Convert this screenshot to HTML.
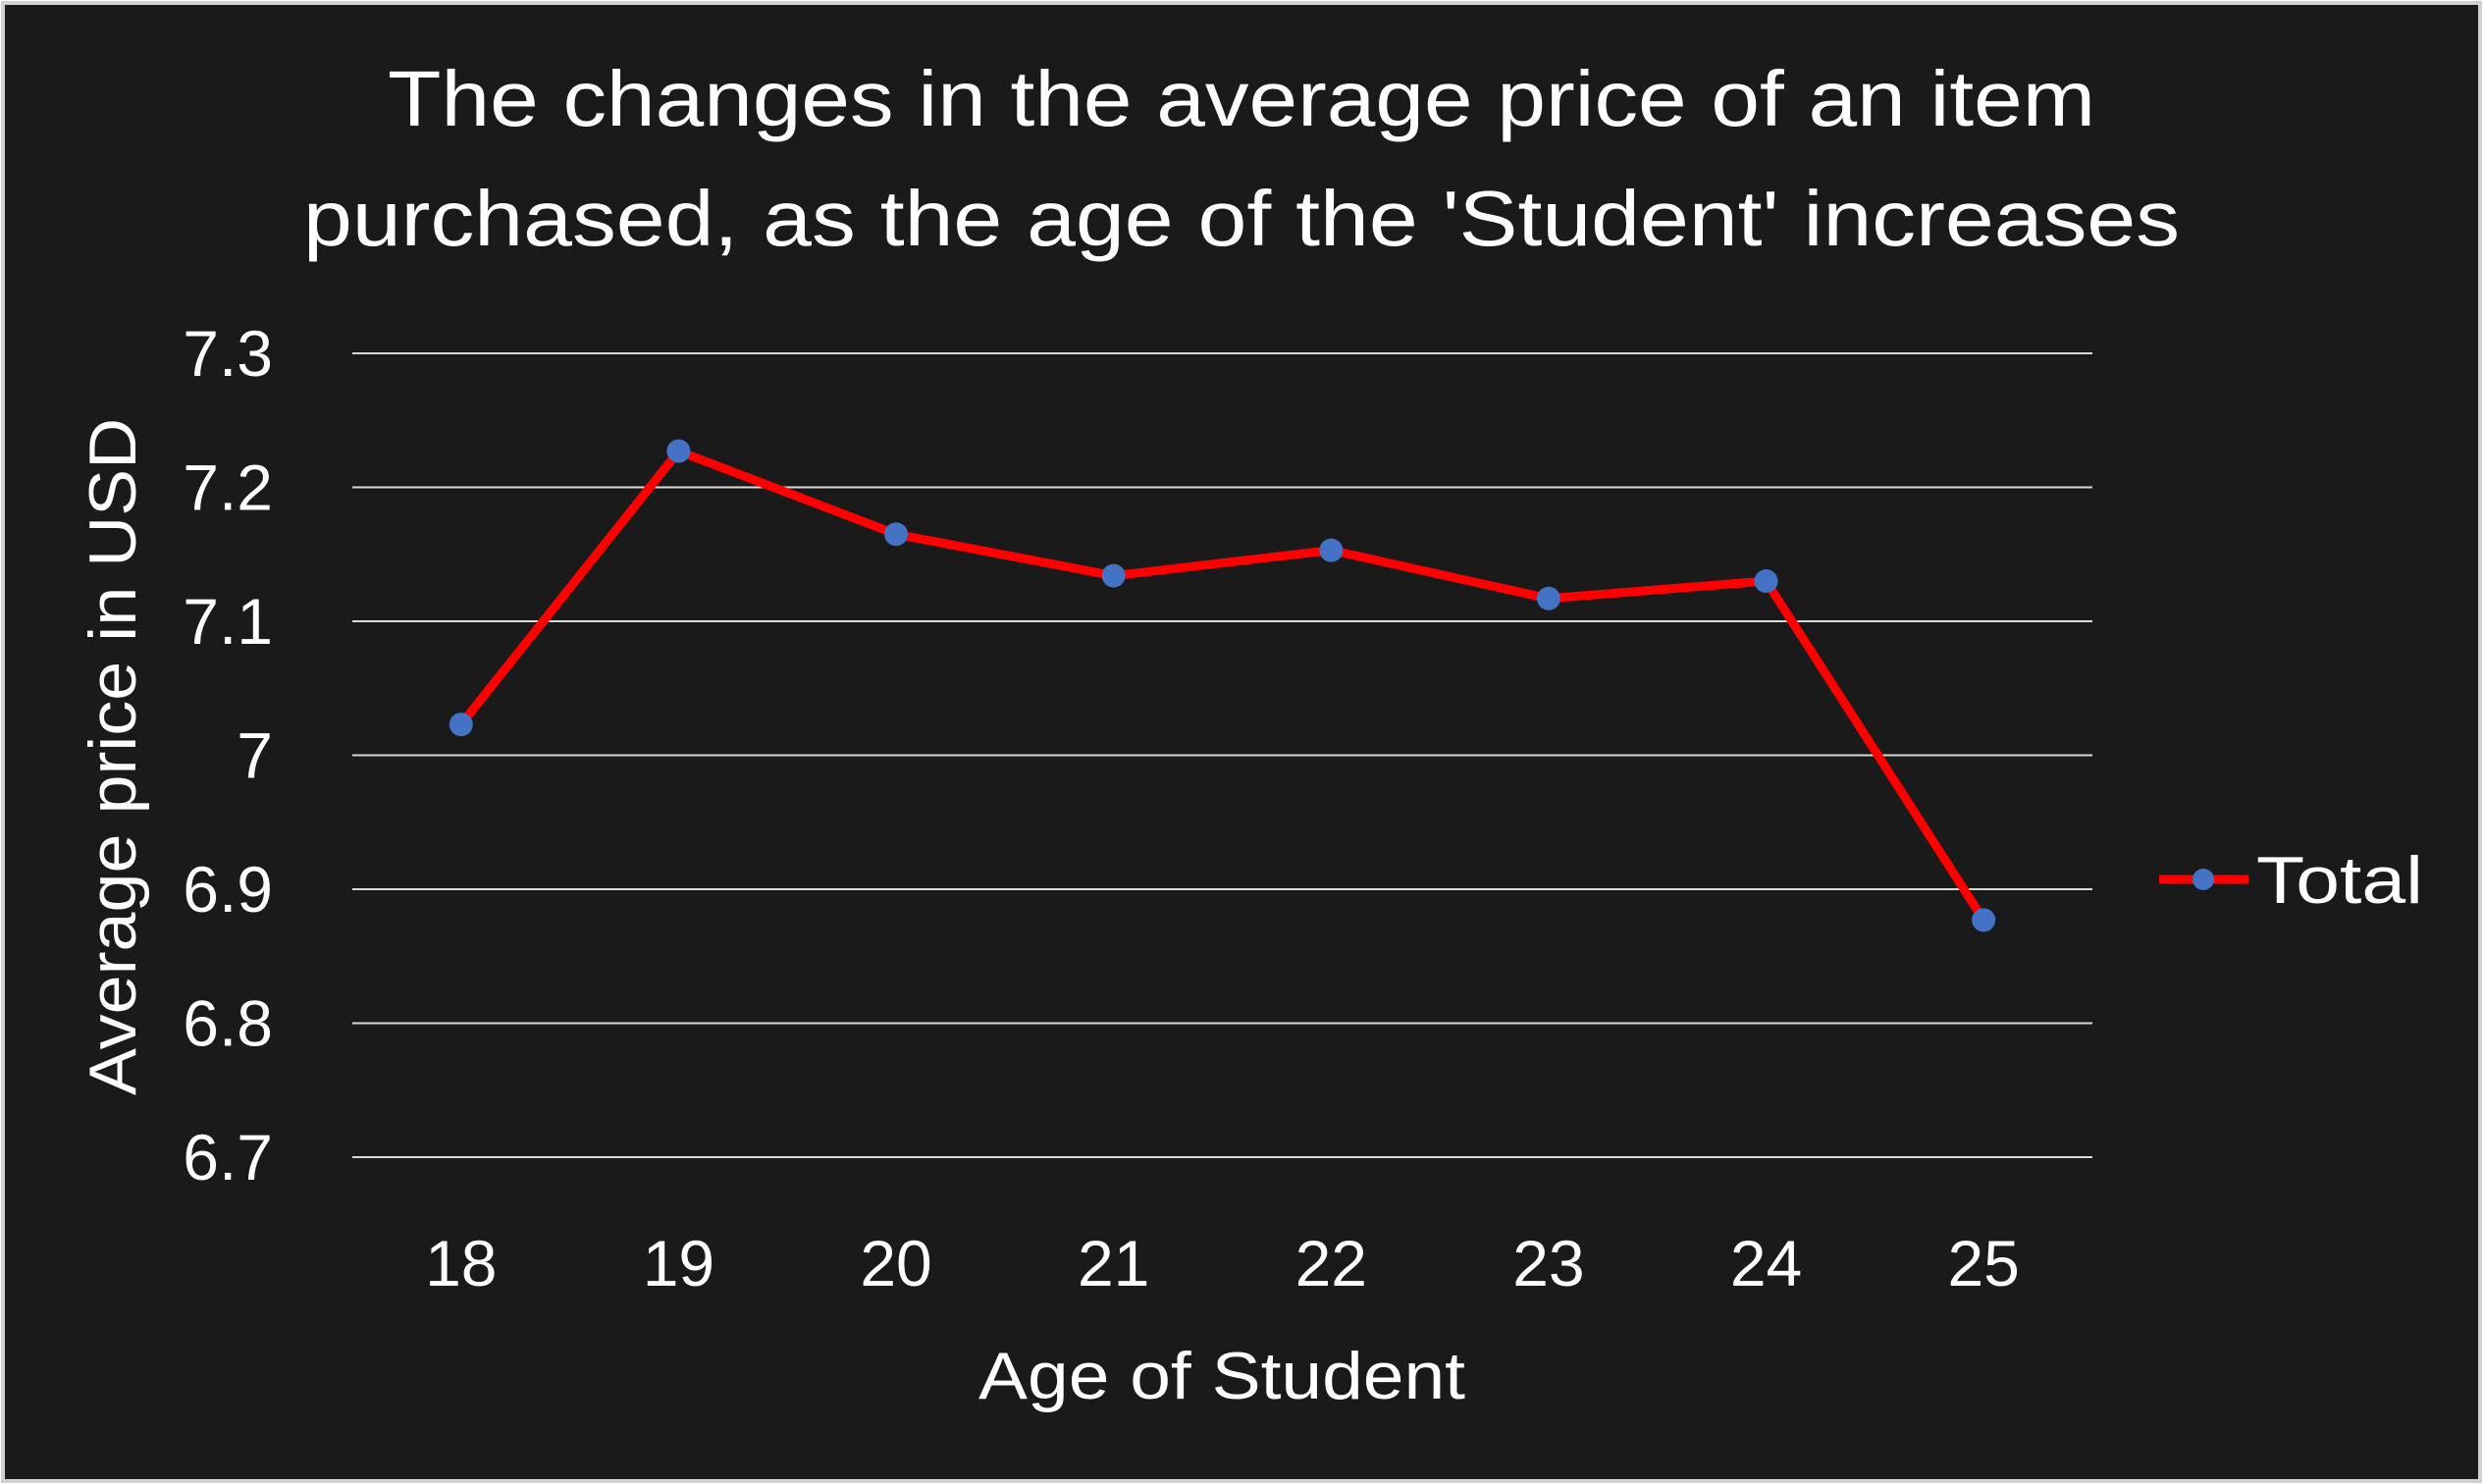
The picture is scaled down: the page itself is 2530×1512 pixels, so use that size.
<!DOCTYPE html>
<html><head><meta charset="utf-8"><style>
html,body{margin:0;padding:0;background:#fff;}
svg{display:block;font-family:"Liberation Sans",sans-serif;}
</style></head><body>
<svg id="chart" width="2530" height="1512" viewBox="0 0 2530 1512" xmlns="http://www.w3.org/2000/svg">
<rect x="3" y="3" width="2524" height="1506" fill="#1a1a1a" stroke="#d0d0d0" stroke-width="4"/>
<text x="1265" y="128" fill="#fff" font-size="80" text-anchor="middle" textLength="1740" lengthAdjust="spacingAndGlyphs">The changes in the average price of an item</text>
<text x="1265" y="250" fill="#fff" font-size="80" text-anchor="middle" textLength="1912" lengthAdjust="spacingAndGlyphs">purchased, as the age of the 'Student' increases</text>
<g id="grid"></g><g id="yticks"></g><g id="xticks"></g><g id="series"></g>
<text x="1245" y="1425" fill="#fff" font-size="68" text-anchor="middle" textLength="496" lengthAdjust="spacingAndGlyphs">Age of Student</text>
<text transform="translate(138,771) rotate(-90)" fill="#fff" font-size="68" text-anchor="middle" textLength="690" lengthAdjust="spacingAndGlyphs">Average price in USD</text>
<g>
<line x1="2200" y1="896" x2="2291" y2="896" stroke="#ff0000" stroke-width="9"/>
<circle cx="2245" cy="896" r="11" fill="#4472c4"/>
<text x="2299" y="920" fill="#fff" font-size="68" textLength="170" lengthAdjust="spacingAndGlyphs">Total</text>
</g>
</svg>
<script>
const categories=["18","19","20","21","22","23","24","25"];
const values=[7.023,7.227,7.165,7.134,7.153,7.117,7.130,6.877];
const yTicks=[6.7,6.8,6.9,7.0,7.1,7.2,7.3];
const yTickLabels=["6.7","6.8","6.9","7","7.1","7.2","7.3"];
const NS="http://www.w3.org/2000/svg";
const L=359,R=2132,T=360,B=1179,yMin=6.7,yMax=7.3;
function yS(v){return B-(v-yMin)/(yMax-yMin)*(B-T);}
function xS(i){const w=(R-L)/categories.length;return L+w*(i+0.5);}
function mk(t,a,p){const e=document.createElementNS(NS,t);for(const k in a)e.setAttribute(k,a[k]);p.appendChild(e);return e;}
const grid=document.getElementById('grid'),yt=document.getElementById('yticks'),xt=document.getElementById('xticks'),se=document.getElementById('series');
yTicks.forEach((v,i)=>{
 const l=mk('line',{x1:L,x2:R,y1:yS(v),y2:yS(v),stroke:'#d9d9d9','stroke-width':2},grid);
 
 
 const t=mk('text',{x:278,y:yS(v)+23,fill:'#fff','font-size':66,'text-anchor':'end'},yt);
 t.textContent=yTickLabels[i];
 
 
});
categories.forEach((c,i)=>{
 const t=mk('text',{x:xS(i),y:1310,fill:'#fff','font-size':66,'text-anchor':'middle'},xt);
 t.textContent=c;
 
 
});
const pl=mk('polyline',{points:values.map((v,i)=>xS(i)+','+yS(v)).join(' '),fill:'none',stroke:'#ff0000','stroke-width':9,'stroke-linejoin':'round'},se);


values.forEach((v,i)=>{
 const c=mk('circle',{cx:xS(i),cy:yS(v),r:12,fill:'#4472c4'},se);
 
 
});
</script>
</body></html>
